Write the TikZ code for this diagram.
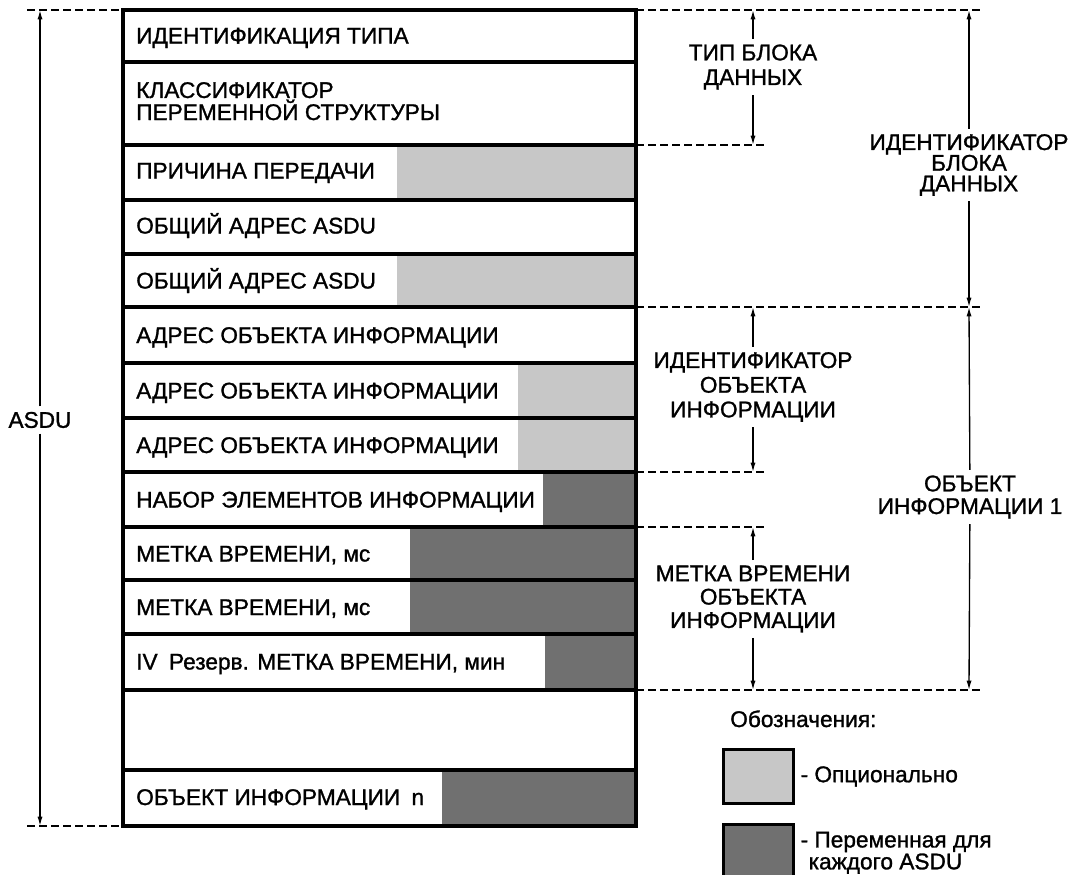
\documentclass[tikz,border=0pt]{standalone}
\usepackage{fontspec}
\setmainfont{Liberation Sans}[RawFeature={embolden=1.2}]
\usetikzlibrary{arrows.meta,positioning}

\definecolor{optgray}{gray}{0.78}
\definecolor{vargray}{gray}{0.44}

\tikzset{
	frame/.style={line width=2.3pt},
	guide/.style={line width=1.4pt, dash pattern=on 6pt off 3pt},
	dimarrow/.style={-{Latex[length=7pt,width=3.8pt]}, line width=1pt},
	rowtext/.style={anchor=base west, inner sep=0pt, align=left, font=\fontsize{17}{14.5}\selectfont},
	sidelabel/.style={align=center, inner sep=4pt, font=\fontsize{17}{#1}\selectfont},
	sidelabel/.default=18,
	legbox/.style={draw, line width=2.3pt, minimum width=52.5pt, minimum height=40.5pt, inner sep=0pt},
	legtext/.style={align=left, inner sep=0pt, font=\fontsize{17}{15}\selectfont},
}

\begin{document}
\begin{tikzpicture}[x=0.75pt, y=-0.75pt]
	\clip (0,0) rectangle (1072,875);

	% ASDU rows: top/bottom/fill start/fill colour/baseline/text
	\foreach \ytop/\ybot/\xfill/\fillcol/\ybase/\txt [count=\i] in {
		10/62/636/white/43.5/{ИДЕНТИФИКАЦИЯ ТИПА},
		62/145/636/white/120/{КЛАССИФИКАТОР\\ПЕРЕМЕННОЙ СТРУКТУРЫ},
		145/200/397/optgray/178.5/{ПРИЧИНА ПЕРЕДАЧИ},
		200/254/636/white/233.5/{ОБЩИЙ АДРЕС ASDU},
		254/307/397/optgray/288.5/{ОБЩИЙ АДРЕС ASDU},
		307/363/636/white/343/{АДРЕС ОБЪЕКТА ИНФОРМАЦИИ},
		363/418/518/optgray/398.5/{АДРЕС ОБЪЕКТА ИНФОРМАЦИИ},
		418/472/518/optgray/453/{АДРЕС ОБЪЕКТА ИНФОРМАЦИИ},
		472/527/543/vargray/507.5/{НАБОР ЭЛЕМЕНТОВ ИНФОРМАЦИИ},
		527/580/410/vargray/561.5/{МЕТКА ВРЕМЕНИ, мс},
		580/634/410/vargray/615/{МЕТКА ВРЕМЕНИ, мс},
		634/690/545/vargray/669.5/{IV\hspace{0.5em}Резерв. МЕТКА ВРЕМЕНИ, мин},
		690/770/636/white/737/{},
		770/826/442/vargray/805/{ОБЪЕКТ ИНФОРМАЦИИ\hspace{0.5em}n}
	}{
		\fill[\fillcol] (\xfill,\ytop) rectangle (636,\ybot);
		\node[rowtext] (row\i) at (136,\ybase) {\txt};
		\draw[frame] (123,\ytop) rectangle (636,\ybot);
	}

	% dashed guides
	\draw[guide] (27,10) -- (123,10);
	\draw[guide] (27,826) -- (123,826);
	\draw[guide] (636,10) -- (983,10);
	\draw[guide] (636,145) -- (765,145);
	\draw[guide] (636,307) -- (983,307);
	\draw[guide] (636,472) -- (765,472);
	\draw[guide] (636,527) -- (765,527);
	\draw[guide] (636,690) -- (983,690);

	% ASDU
	\node[sidelabel] (asdu) at (40,420) {ASDU};
	\coordinate (asduTop) at (40,10);
	\coordinate (asduBot) at (40,826);
	\draw[dimarrow] (asdu) -- (asduTop);
	\draw[dimarrow] (asdu) -- (asduBot);

	% inner dimensions
	\node[sidelabel=18.5] (blocktype) at (753,67) {ТИП БЛОКА\\ДАННЫХ};
	\coordinate (blocktypeTop) at (753,10);
	\coordinate (blocktypeBot) at (753,145);
	\draw[dimarrow] (blocktype) -- (blocktypeTop);
	\draw[dimarrow] (blocktype) -- (blocktypeBot);

	\node[sidelabel=18.5] (objid) at (753,387) {ИДЕНТИФИКАТОР\\ОБЪЕКТА\\ИНФОРМАЦИИ};
	\coordinate (objidTop) at (753,307);
	\coordinate (objidBot) at (753,472);
	\draw[dimarrow] (objid) -- (objidTop);
	\draw[dimarrow] (objid) -- (objidBot);

	\node[sidelabel=17.5] (timetag) at (753,599) {МЕТКА ВРЕМЕНИ\\ОБЪЕКТА\\ИНФОРМАЦИИ};
	\coordinate (timetagTop) at (753,527);
	\coordinate (timetagBot) at (753,690);
	\draw[dimarrow] (timetag) -- (timetagTop);
	\draw[dimarrow] (timetag) -- (timetagBot);

	% outer dimensions
	\node[sidelabel=15.5] (blockid) at (969,165) {ИДЕНТИФИКАТОР\\БЛОКА\\ДАННЫХ};
	\coordinate (blockidTop) at (969,10);
	\coordinate (blockidBot) at (969,307);
	\draw[dimarrow] (blockid) -- (blockidTop);
	\draw[dimarrow] (blockid) -- (blockidBot);

	\node[sidelabel=17] (infobj) at (970,497) {ОБЪЕКТ\\ИНФОРМАЦИИ 1};
	\coordinate (infobjTop) at (969,307);
	\coordinate (infobjBot) at (969,690);
	\draw[dimarrow] (infobj) -- (infobjTop);
	\draw[dimarrow] (infobj) -- (infobjBot);

	% legend
	\node[legtext, anchor=base west] (legend) at (730,727) {Обозначения:};
	\node[legbox, fill=optgray] (optbox) at (758.5,776.5) {};
	\node[legtext, right=4pt of optbox] (opttext) {- Опционально};
	\node[legbox, fill=vargray] (varbox) at (758.5,851.5) {};
	\node[legtext, right=4pt of varbox, yshift=-1pt] (vartext) {- Переменная для\\\hspace*{6pt}каждого ASDU};
\end{tikzpicture}
\end{document}
